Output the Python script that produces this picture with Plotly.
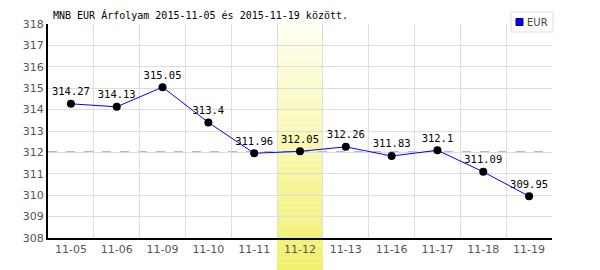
import plotly.graph_objects as go

dates = ["11-05", "11-06", "11-09", "11-10", "11-11", "11-12", "11-13", "11-16", "11-17", "11-18", "11-19"]
rates = [314.27, 314.13, 315.05, 313.4, 311.96, 312.05, 312.26, 311.83, 312.1, 311.09, 309.95]
labels = ["314.27", "314.13", "315.05", "313.4", "311.96", "312.05", "312.26", "311.83", "312.1", "311.09", "309.95"]
highlight_index = 5
ref_level = 312.03
title = "MNB EUR Árfolyam 2015-11-05 és 2015-11-19 között."
series_name = "EUR"

xs = list(range(len(dates)))
mono = "DejaVu Sans Mono"
L, R, T, B = 48, 48, 24, 32
PW, PH = 600 - L - R, 270 - T - B

def px_x(p):
    return (p - L) / PW

def px_y(p):
    return (270 - B - p) / PH

fig = go.Figure()
fig.add_trace(go.Scatter(
    x=xs, y=rates, mode="lines+markers+text",
    line=dict(color="#0000ff", width=1),
    marker=dict(color="#000000", size=8),
    text=labels, textposition="top center",
    textfont=dict(family=mono, size=10.5, color="#000000"),
    showlegend=False, cliponaxis=False,
))

# gradient band for highlighted day
n = 40
y_bot = -B / PH
y_top = 1.0
top_c = (255, 255, 240)
bot_c = (242, 240, 110)
shapes = []
for i in range(n):
    t = i / (n - 1)
    c = tuple(int(round(top_c[k] + (bot_c[k] - top_c[k]) * t)) for k in range(3))
    y1 = y_top - (y_top - y_bot) * i / n
    y0 = y_top - (y_top - y_bot) * (i + 1) / n
    shapes.append(dict(type="rect", xref="x", yref="paper",
                       x0=highlight_index - 0.5, x1=highlight_index + 0.5,
                       y0=y0, y1=y1, fillcolor="rgb(%d,%d,%d)" % c,
                       line=dict(width=0), layer="between"))
shapes.append(dict(type="line", xref="paper", yref="y", x0=0, x1=1,
                   y0=ref_level, y1=ref_level,
                   line=dict(color="#9a9af5", width=1, dash="dash"), layer="between"))

# legend box (manual)
shapes.append(dict(type="rect", xref="paper", yref="paper",
                   x0=px_x(511), x1=px_x(553), y0=px_y(32), y1=px_y(12),
                   fillcolor="white", line=dict(color="#dddddd", width=1), layer="above"))
shapes.append(dict(type="rect", xref="paper", yref="paper",
                   x0=px_x(516), x1=px_x(523), y0=px_y(25.5), y1=px_y(18.5),
                   fillcolor="#0000ff", line=dict(color="#000066", width=1), layer="above"))

annotations = [dict(text=series_name, xref="paper", yref="paper",
                    x=px_x(525), y=px_y(22), xanchor="left", yanchor="middle",
                    showarrow=False, font=dict(family="DejaVu Sans", size=10, color="#444444"))]

fig.update_layout(
    width=600, height=270,
    margin=dict(l=L, r=R, t=T, b=B, autoexpand=False),
    paper_bgcolor="white", plot_bgcolor="white",
    shapes=shapes, annotations=annotations, showlegend=False,
    title=dict(text=title, x=53 / 600, xanchor="left", y=1 - 15 / 270, yanchor="middle",
               font=dict(family=mono, size=10, color="#000000")),
    xaxis=dict(
        range=[-0.5, len(dates) - 0.5],
        tickvals=xs, ticktext=dates, showgrid=False,
        tickfont=dict(family="DejaVu Sans", size=11, color="#555555"),
        showline=True, linecolor="#000000", linewidth=2,
        ticks="", zeroline=False, fixedrange=True,
        minor=dict(tickvals=[i - 0.5 for i in range(len(dates) + 1)], showgrid=True,
                   gridcolor="#dddddd", gridwidth=1, ticks=""),
    ),
    yaxis=dict(
        range=[308, 318], dtick=1, tick0=308,
        tickfont=dict(family="DejaVu Sans", size=11, color="#555555"),
        showgrid=True, gridcolor="#dddddd", gridwidth=1,
        showline=True, linecolor="#000000", linewidth=2,
        ticks="", zeroline=False, fixedrange=True,
    ),
)

fig.write_html("out.html")
